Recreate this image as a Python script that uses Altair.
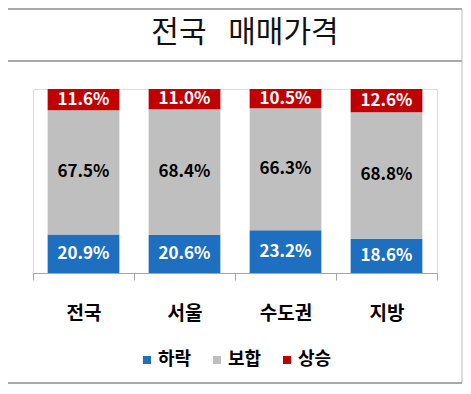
import altair as alt
import pandas as pd

title_text = "전국\u00a0\u2002매매가격"
regions = ["전국", "서울", "수도권", "지방"]
series = ["하락", "보합", "상승"]
down = [20.9, 20.6, 23.2, 18.6]
flat = [67.5, 68.4, 66.3, 68.8]
up = [11.6, 11.0, 10.5, 12.6]
colors = ["#1F6FC0", "#BFBFBF", "#C00000"]

rows = []
for i, r in enumerate(regions):
    for k, (s, vals) in enumerate(zip(series, [down, flat, up])):
        rows.append({"region": r, "series": s, "ord": k, "value": vals[i]})
df = pd.DataFrame(rows)

FONT = "Noto Sans CJK KR"

base = alt.Chart(df).transform_stack(
    stack="value", as_=["y0", "y1"], groupby=["region"], sort=[alt.SortField("ord")]
).transform_calculate(
    ymid="(datum.y0 + datum.y1) / 2",
    label="format(datum.value, '.1f') + '%'"
)

xaxis = alt.Axis(title=None, labelAngle=0, labelFont=FONT, labelFontSize=19,
                 labelFontWeight="bold", labelColor="#000000", tickBand="extent",
                 tickSize=7, labelPadding=24, domainColor="#A6A6A6", tickColor="#A6A6A6",
                 domainWidth=1, grid=False)
xenc = alt.X("region:N", sort=regions,
             scale=alt.Scale(paddingInner=0, paddingOuter=0), axis=xaxis)
yscale = alt.Scale(domain=[0, 100])

bars = base.mark_bar(width=alt.RelativeBandSize(0.71)).encode(
    x=xenc,
    y=alt.Y("y0:Q", scale=yscale, axis=None),
    y2="y1:Q",
    color=alt.Color("series:N", scale=alt.Scale(domain=series, range=colors),
                    legend=alt.Legend(title=None, orient="none", direction="horizontal",
                                      legendX=105, legendY=262, symbolType="square",
                                      symbolSize=64, symbolStrokeWidth=0, labelFont=FONT,
                                      labelFontSize=18, labelFontWeight="bold",
                                      labelColor="#000000", labelOffset=2, columnPadding=16,
                                      padding=0))
)

texts = base.mark_text(font=FONT, fontSize=17, fontWeight="bold").encode(
    x=xenc,
    y=alt.Y("ymid:Q", scale=yscale, axis=None),
    text="label:N",
    color=alt.condition(alt.datum.series == "보합", alt.value("#000000"), alt.value("#FFFFFF"))
)

one = pd.DataFrame({"t": [title_text]})
title = alt.Chart(one).mark_text(font=FONT, fontSize=30, fontWeight="normal", color="#111111").encode(
    text="t:N", x=alt.value(212), y=alt.value(-56)
)
top_line = alt.Chart(one).mark_rule(color="#8C8C8C", strokeWidth=1.5).encode(
    x=alt.value(-25), x2=alt.value(429), y=alt.value(-80))
title_line = alt.Chart(one).mark_rule(color="#8C8C8C", strokeWidth=1.5).encode(
    x=alt.value(-25), x2=alt.value(429), y=alt.value(-28))
right_line = alt.Chart(one).mark_rule(color="#BDBDBD", strokeWidth=1).encode(
    x=alt.value(429), y=alt.value(-80), y2=alt.value(294))
bottom_line = alt.Chart(one).mark_rule(color="#8C8C8C", strokeWidth=1.5).encode(
    x=alt.value(-25), x2=alt.value(429), y=alt.value(294))

chart = alt.layer(bars, texts, title, top_line, title_line, right_line, bottom_line).properties(
    width=404, height=184,
    autosize=alt.AutoSizeParams(type="none"),
    padding={"left": 25, "top": 81, "right": 26, "bottom": 111}
).configure_view(stroke="transparent", strokeWidth=0).configure_axisY(domain=False, ticks=False, labels=False, grid=False).configure(background="#FFFFFF")

chart.save("out.html", embed_options={"renderer": "svg", "actions": False})
